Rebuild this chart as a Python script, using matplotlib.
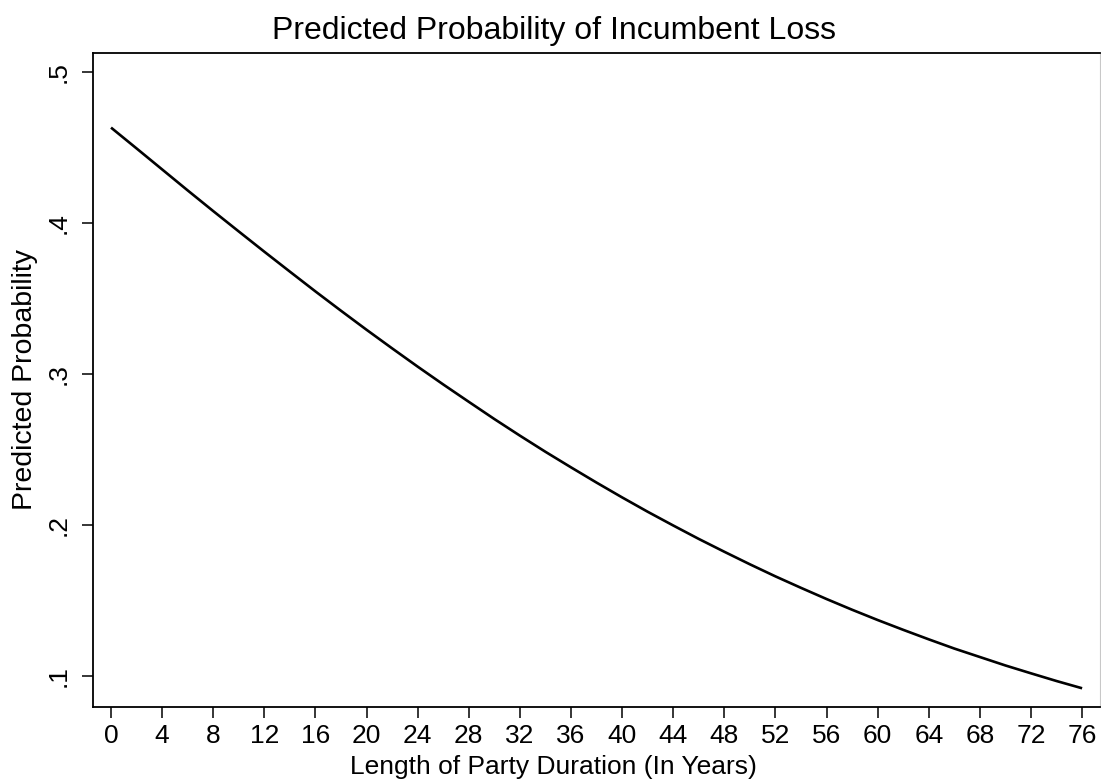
import matplotlib
matplotlib.use("Agg")
import matplotlib.pyplot as plt

plt.rcParams['font.family'] = ['Liberation Sans', 'DejaVu Sans']

# Predicted probability of incumbent loss by length of party duration
years = [0, 2, 4, 6, 8, 10, 12, 14, 16, 18, 20, 22, 24, 26, 28, 30, 32, 34, 36, 38,
         40, 42, 44, 46, 48, 50, 52, 54, 56, 58, 60, 62, 64, 66, 68, 70, 72, 74, 76]
prob = [0.463, 0.4492, 0.4353, 0.4214, 0.4077, 0.3942, 0.3808, 0.3676, 0.3545, 0.3417,
        0.3291, 0.3168, 0.3047, 0.2929, 0.2814, 0.2700, 0.2590, 0.2483, 0.2380, 0.2279,
        0.2181, 0.2086, 0.1995, 0.1906, 0.1821, 0.1738, 0.1658, 0.1582, 0.1508, 0.1437,
        0.1369, 0.1304, 0.1241, 0.1180, 0.1124, 0.1068, 0.1016, 0.0965, 0.0917]

x_ticks = list(range(0, 77, 4))
y_ticks = [0.1, 0.2, 0.3, 0.4, 0.5]
y_tick_labels = ['.1', '.2', '.3', '.4', '.5']

W, H = 1101, 781
fig = plt.figure(figsize=(W / 100, H / 100), dpi=100)
fig.patch.set_facecolor('white')

left, right, top, bottom = 93, 1100, 53, 707
ax = fig.add_axes([left / W, (H - bottom) / H, (right - left) / W, (bottom - top) / H])

ax.plot(years, prob, color='black', linewidth=1.9, solid_capstyle='butt',
        solid_joinstyle='round')

ax.set_xlim(-1.41, 77.4)
ax.set_ylim(0.0793, 0.5124)

ax.set_xticks(x_ticks)
ax.set_xticklabels([str(v) for v in x_ticks])
ax.set_yticks(y_ticks)
ax.set_yticklabels(y_tick_labels, rotation=90, va='center')

ax.tick_params(axis='both', direction='out', length=8, width=1.1, colors='black', labelsize=19)
ax.tick_params(axis='x', pad=4)
ax.tick_params(axis='y', pad=8)

for side in ['left', 'bottom', 'top']:
    ax.spines[side].set_color('black')
    ax.spines[side].set_linewidth(1.3)
ax.spines['right'].set_color('#c8c8c8')
ax.spines['right'].set_linewidth(0.8)

fig.text(554 / W, 1 - 31 / H, 'Predicted Probability of Incumbent Loss',
         ha='center', va='center', fontsize=23)
fig.text(553 / W, 1 - 767 / H, 'Length of Party Duration (In Years)',
         ha='center', va='center', fontsize=19)
fig.text(25 / W, 1 - 379 / H, 'Predicted Probability',
         ha='center', va='center', rotation=90, fontsize=20.5)

fig.savefig('out.png', dpi=100, facecolor='white')
